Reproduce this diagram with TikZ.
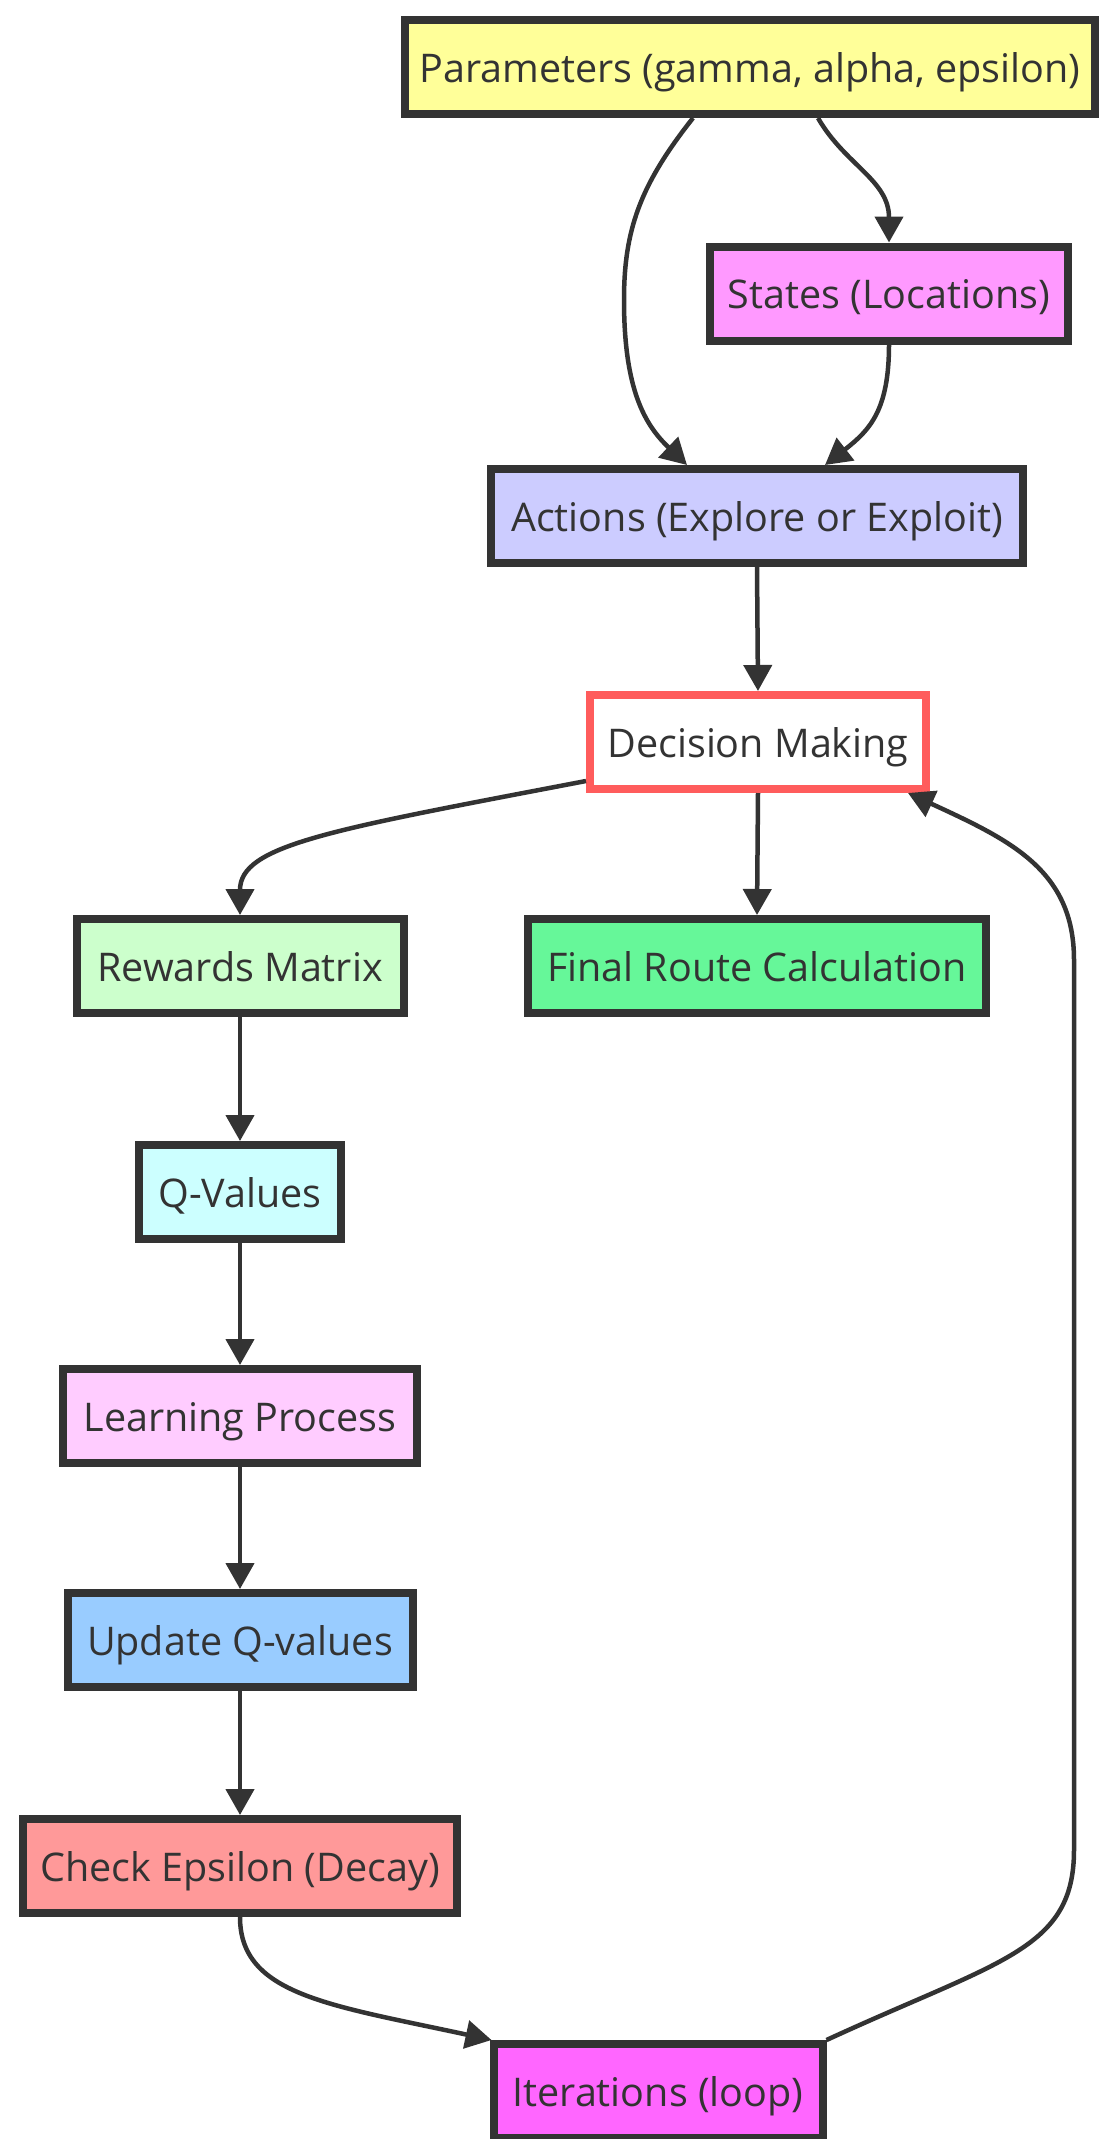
\documentclass[tikz,border=0pt]{standalone}
\usepackage{fontspec}
\setmainfont{Open Sans}
\usetikzlibrary{arrows.meta}

\definecolor{ink}{HTML}{333333}
\definecolor{edge}{HTML}{333333}
\definecolor{paramfill}{HTML}{FFFF99}
\definecolor{statefill}{HTML}{FF99FF}
\definecolor{actionfill}{HTML}{CCCCFF}
\definecolor{decisionline}{HTML}{FF5C5C}
\definecolor{rewardfill}{HTML}{CCFFCC}
\definecolor{finalfill}{HTML}{66F799}
\definecolor{qfill}{HTML}{CCFFFF}
\definecolor{learnfill}{HTML}{FFCCFF}
\definecolor{updatefill}{HTML}{99CCFF}
\definecolor{checkfill}{HTML}{FF9999}
\definecolor{iterfill}{HTML}{FF66FF}

\begin{document}
\begin{tikzpicture}[x=1pt,y=-1pt,
  box/.style={draw=edge, line width=8pt, fill=#1, text=ink,
    font=\fontsize{39.5}{47}\selectfont, text height=40pt, text depth=10pt,
    minimum height=94pt, inner sep=0pt},
  link/.style={draw=edge, line width=4.5pt,
    -{Triangle[length=26pt,width=28pt]}}]

\fill[white] (0,0) rectangle (1103,2139);
\useasboundingbox (0,0) rectangle (1103,2139);

% process boxes
\node[box=paramfill, minimum width=690pt] (params) at (750,67) {Parameters (gamma, alpha, epsilon)};
\node[box=statefill, minimum width=358pt] (states) at (889,293.5) {States (Locations)};
\node[box=actionfill, minimum width=532pt] (actions) at (757,516) {Actions (Explore or Exploit)};
\node[box=white, draw=decisionline, minimum width=336pt] (decision) at (758,742) {Decision Making};
\node[box=rewardfill, minimum width=327pt] (rewards) at (240,966) {Rewards Matrix};
\node[box=finalfill, minimum width=458pt] (final) at (757,966) {Final Route Calculation};
\node[box=qfill, minimum width=202pt] (qvals) at (240,1192) {Q-Values};
\node[box=learnfill, minimum width=354pt] (learn) at (240,1416) {Learning Process};
\node[box=updatefill, minimum width=345pt] (update) at (240,1640) {Update Q-values};
\node[box=checkfill, minimum width=434pt] (check) at (240,1866) {Check Epsilon (Decay)};
\node[box=iterfill, minimum width=329pt] (iter) at (658,2091) {Iterations (loop)};

% connectors
\draw[link] ([xshift=68pt]params.south) .. controls (845,165) and (889,180) .. (states.north);
\draw[link] ([xshift=-57pt]params.south) .. controls (640,185) and (624,230) .. (624,300)
  .. controls (624,390) and (645,425) .. ([xshift=-70pt]actions.north);
\draw[link] (states.south) .. controls (889,410) and (870,430) .. ([xshift=68pt]actions.north);
\draw[link] (actions.south) -- (decision.north);
\draw[link] ([yshift=12pt]decision.south west) .. controls (330,830) and (240,845) .. (rewards.north);
\draw[link] (decision.south) -- (final.north);
\draw[link] (rewards.south) -- (qvals.north);
\draw[link] (qvals.south) -- (learn.north);
\draw[link] (learn.south) -- (update.north);
\draw[link] (update.south) -- (check.north);
\draw[link] (check.south) .. controls (240,1995) and (330,2005) .. ([xshift=2pt]iter.north west);
\draw[link] (iter.north east) .. controls (1000,1960) and (1074,1950) .. (1074,1850)
  -- (1074,960) .. controls (1074,870) and (1010,840) .. ([xshift=-22pt]decision.south east);
\end{tikzpicture}
\end{document}
